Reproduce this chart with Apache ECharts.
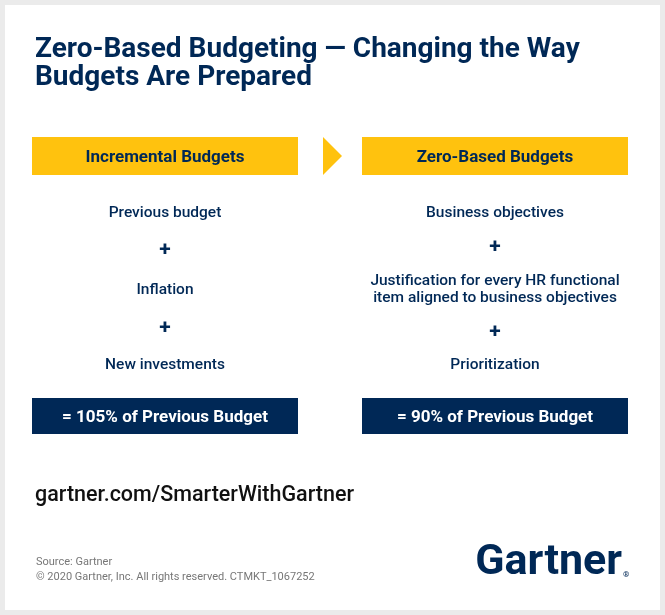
<!DOCTYPE html>
<html style="height: 100%">
<head>
<meta charset="utf-8" />
<title>Zero-Based Budgeting</title>
</head>
<body style="height: 100%; margin: 0; background: #ebebeb">
<div id="container" style="width: 665px; height: 615px"></div>
<script type="text/javascript" src="https://cdn.jsdelivr.net/npm/echarts@6/dist/echarts.min.js"></script>
<script type="text/javascript">
var titleLines = ['Zero-Based Budgeting \u2014 Changing the Way', 'Budgets Are Prepared'];
var headers = ['Incremental Budgets', 'Zero-Based Budgets'];
// each column: text items (lines joined with \n), y centre of each
var leftItems = ['Previous budget', '+', 'Inflation', '+', 'New investments'];
var leftY = [211, 249, 288, 327, 363];
var rightItems = ['Business objectives', '+', 'Justification for every HR functional\nitem aligned to business objectives', '+', 'Prioritization'];
var rightY = [211, 246, 288, 331, 363];
var results = ['= 105% of Previous Budget', '= 90% of Previous Budget'];
var urlText = 'gartner.com/SmarterWithGartner';
var sourceLines = ['Source: Gartner', '\u00a9 2020 Gartner, Inc. All rights reserved. CTMKT_1067252'];

var navy = '#002856';
var yellow = '#ffc20e';
var font = 'Roboto';
var dy = 2; // middle-align offset for this font

var dom = document.getElementById('container');
var myChart = echarts.init(dom);

var els = [];
// white card
els.push({ type: 'rect', shape: { x: 5, y: 5, width: 655, height: 605 }, style: { fill: '#ffffff' } });

// title
titleLines.forEach(function (t, i) {
    els.push({
        type: 'text', x: 35, y: 48 + dy + i * 28,
        style: { text: t, fill: navy, font: 'bold 28px ' + font, textVerticalAlign: 'middle' }
    });
});

var colX = [32, 362];
var colW = 266;
var colItems = [leftItems, rightItems];
var colY = [leftY, rightY];

for (var c = 0; c < 2; c++) {
    var cx = colX[c] + colW / 2;
    els.push({ type: 'rect', shape: { x: colX[c], y: 137, width: colW, height: 38 }, style: { fill: yellow } });
    els.push({
        type: 'text', x: cx, y: 156 + dy,
        style: { text: headers[c], fill: navy, font: 'bold 17px ' + font, textAlign: 'center', textVerticalAlign: 'middle' }
    });
    colItems[c].forEach(function (t, i) {
        var isPlus = t === '+';
        els.push({
            type: 'text', x: cx, y: colY[c][i] + dy,
            style: {
                text: t, fill: navy,
                font: (isPlus ? 'bold 21px ' : '500 15.5px ') + font,
                lineHeight: 17,
                textAlign: 'center', textVerticalAlign: 'middle'
            }
        });
    });
    els.push({ type: 'rect', shape: { x: colX[c], y: 398, width: colW, height: 36 }, style: { fill: navy } });
    els.push({
        type: 'text', x: cx, y: 416 + dy,
        style: { text: results[c], fill: '#ffffff', font: 'bold 17px ' + font, textAlign: 'center', textVerticalAlign: 'middle' }
    });
}

// arrow between headers
els.push({ type: 'polygon', shape: { points: [[323, 137], [342, 156], [323, 175]] }, style: { fill: yellow } });

// footer
els.push({
    type: 'text', x: 35, y: 494 + dy,
    style: { text: urlText, fill: '#111111', font: '500 21.5px ' + font, textVerticalAlign: 'middle' }
});
sourceLines.forEach(function (t, i) {
    els.push({
        type: 'text', x: 36, y: 560 + dy + i * 15,
        style: { text: t, fill: '#777777', font: '11px ' + font, textVerticalAlign: 'middle' }
    });
});
els.push({
    type: 'text', x: 622, y: 585,
    style: { text: 'Gartner', fill: navy, font: 'bold 43px ' + font, textAlign: 'right', textVerticalAlign: 'bottom' }
});
els.push({
    type: 'text', x: 623, y: 579,
    style: { text: '\u00ae', fill: navy, font: 'bold 8px ' + font, textVerticalAlign: 'bottom' }
});

var option = {
    backgroundColor: '#ebebeb',
    graphic: { elements: els }
};
myChart.setOption(option);
</script>
</body>
</html>
